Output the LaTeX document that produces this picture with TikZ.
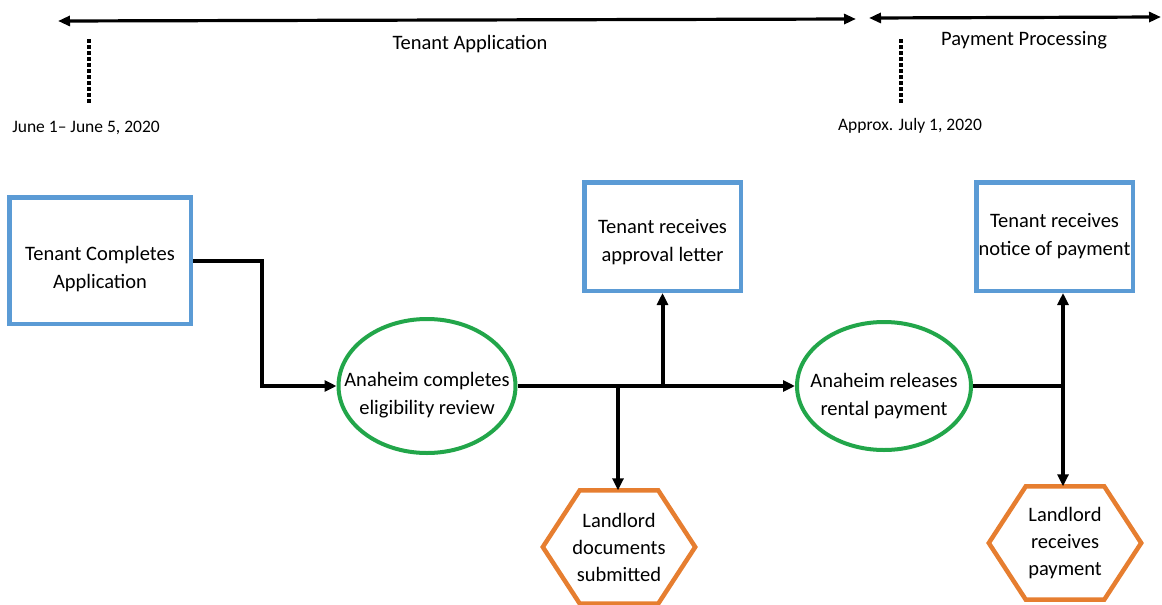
\documentclass[tikz,border=0pt]{standalone}
\usepackage{fontspec}
\setmainfont{Carlito}
\usetikzlibrary{arrows.meta,shapes.geometric}

\definecolor{rahmenblau}{HTML}{5B9BD5}
\definecolor{ovalgruen}{HTML}{22A64A}
\definecolor{eckorange}{HTML}{E67E30}

\tikzset{
    inhalt/.style={align=center, font=\fontsize{20.5}{28}\selectfont},
    kasten/.style={draw=rahmenblau, line width=4.5pt, minimum width=156.5pt, minimum height=108.5pt, inner sep=0pt, inhalt},
    oval/.style={ellipse, draw=ovalgruen, line width=4pt, minimum width=177pt, minimum height=134pt, inner sep=0pt},
    eck/.style={minimum width=152pt, minimum height=113pt, inner sep=0pt, inhalt, font=\fontsize{20.5}{27}\selectfont},
    pfeil/.style={line width=4pt, -{Triangle[length=12pt,width=11pt]}},
    zeitpfeil/.style={line width=3.2pt, {Triangle[length=12pt,width=10pt]}-{Triangle[length=12pt,width=10pt]}},
    punkte/.style={line width=4.5pt, dash pattern=on 3.5pt off 2.5pt},
    marke/.style={font=\fontsize{17.5}{21}\selectfont},
    phase/.style={font=\fontsize{20.5}{25}\selectfont},
}

\begin{document}
\begin{tikzpicture}[x=1pt, y=-1pt]
    \useasboundingbox (0,0) rectangle (1162,605);

    % Zeitleiste
    \coordinate (z1) at (58,21);
    \coordinate (z2) at (856,19);
    \coordinate (z3) at (869,18);
    \coordinate (z4) at (1161,17);
    \draw[zeitpfeil] (z1) -- (z2);
    \draw[zeitpfeil] (z3) -- (z4);
    \node[phase] (antragsphase) at (470,44) {Tenant Application};
    \node[phase] (zahlungsphase) at (1024,40) {Payment Processing};

    % Stichtage
    \foreach \x/\n in {89/a, 901/b} {
        \coordinate (m\n o) at (\x,39);
        \coordinate (m\n u) at (\x,104);
        \draw[punkte] (m\n o) -- (m\n u);
    }
    \node[marke] (datum1) at (86,128) {June 1– June 5, 2020};
    \node[marke] (datum2) at (910,126) {Approx. July 1, 2020};

    % Knoten
    \node[kasten, minimum width=181.5pt, minimum height=126.5pt,
        label={[inhalt, yshift=-9pt]center:Tenant Completes\\Application}] (antrag) at (100,260.5) {};
    \node[oval, label={[inhalt, yshift=-9pt]center:Anaheim completes\\eligibility review}] (pruefung) at (427,386) {};
    \node[oval, minimum width=174pt, minimum height=128pt,
        label={[inhalt, yshift=-10pt]center:Anaheim releases\\rental payment}] (freigabe) at (884,386) {};
    \node[kasten, label={[inhalt, yshift=-6pt]center:Tenant receives\\approval letter}] (bescheid) at (662.5,236.5) {};
    \node[kasten] (mitteilung) at (1054.5,236.5) {Tenant receives\\notice of payment};
    \node[eck] (unterlagen) at (619,547) {Landlord\\documents\\submitted};
    \node[eck] (empfang) at (1065,543) {Landlord\\receives\\payment};

    % Sechsecke
    \foreach \h in {unterlagen, empfang} {
        \draw[draw=eckorange, line width=4.5pt]
            (\h.west) -- ([xshift=37pt]\h.north west) -- ([xshift=-37pt]\h.north east)
            -- (\h.east) -- ([xshift=-37pt]\h.south east) -- ([xshift=37pt]\h.south west) -- cycle;
    }

    % Verbindungen
    \draw[pfeil] (antrag.east) -- ++(69,0) |- (pruefung.west);
    \draw[pfeil] (pruefung.east) -- (freigabe.west);
    \coordinate (ast1) at (618,386);
    \coordinate (ast2) at (662.5,386);
    \draw[pfeil] (ast1) -- (unterlagen.north -| ast1);
    \draw[pfeil] (ast2) -- (bescheid.south);
    \coordinate (knoten) at (1063,386);
    \draw[line width=4pt] (freigabe.east) -- (knoten);
    \draw[pfeil] (knoten) -- (mitteilung.south -| knoten);
    \draw[pfeil] (knoten) -- (empfang.north -| knoten);
\end{tikzpicture}
\end{document}
